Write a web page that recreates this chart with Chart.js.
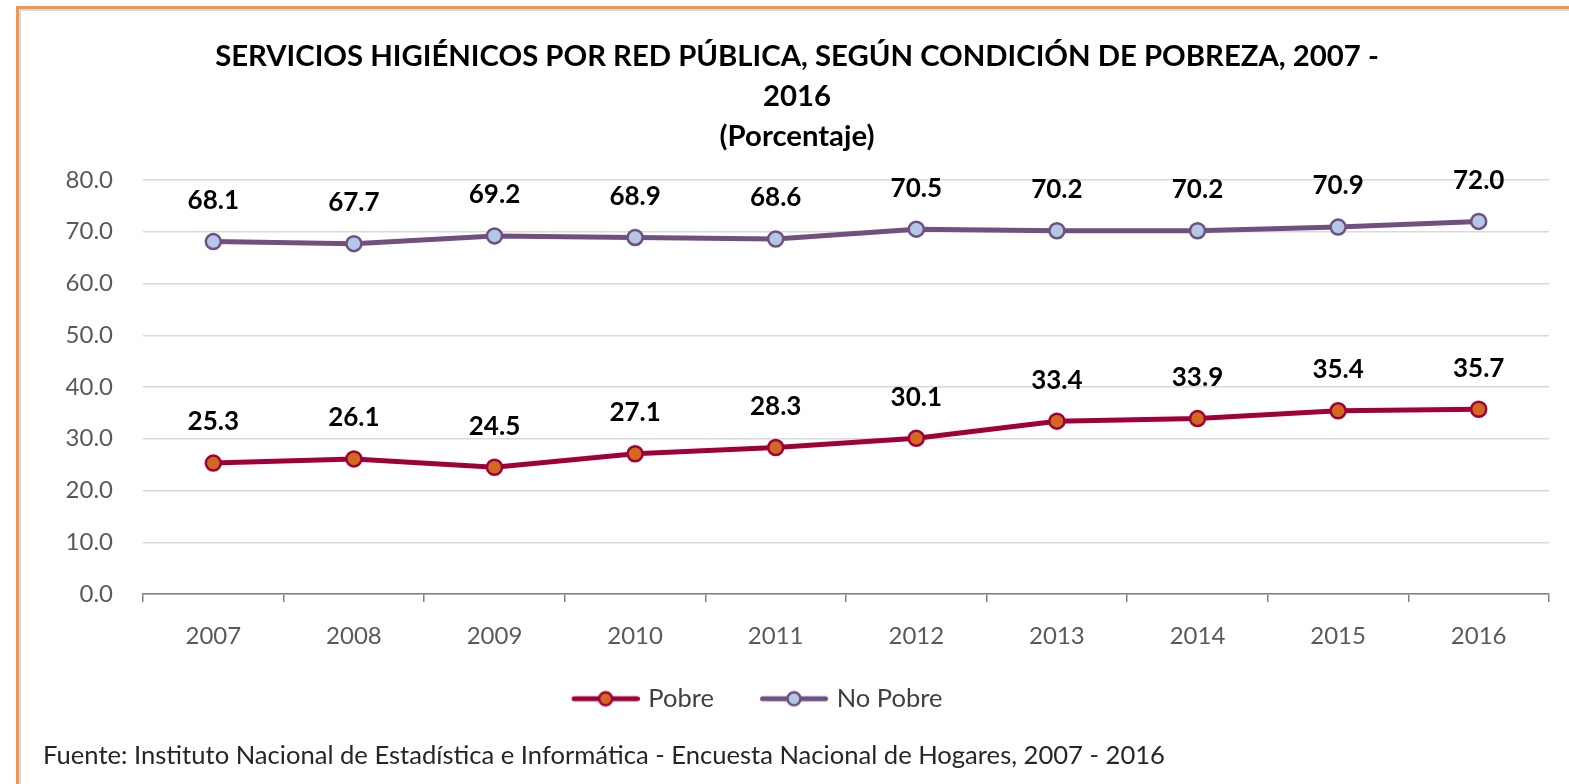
<!DOCTYPE html>
<html><head><meta charset="utf-8">
<script src="https://cdn.jsdelivr.net/npm/chart.js@4.4.1/dist/chart.umd.min.js"></script>
<style>html,body{margin:0;padding:0;background:#fff;overflow:hidden}#wrap{width:1569px;height:784px;position:relative}</style>
</head><body><div id="wrap"><canvas id="c" width="1569" height="784"></canvas></div>
<script>
const years = ['2007','2008','2009','2010','2011','2012','2013','2014','2015','2016'];
const pobre = [25.3, 26.1, 24.5, 27.1, 28.3, 30.1, 33.4, 33.9, 35.4, 35.7];
const noPobre = [68.1, 67.7, 69.2, 68.9, 68.6, 70.5, 70.2, 70.2, 70.9, 72.0];
const seriesNames = ['Pobre', 'No Pobre'];
const titleLines = ['SERVICIOS HIGIÉNICOS POR RED PÚBLICA, SEGÚN CONDICIÓN DE POBREZA, 2007 -', '2016', '(Porcentaje)'];
const sourceNote = 'Fuente: Instituto Nacional de Estadística e Informática - Encuesta Nacional de Hogares, 2007 - 2016';

const FONT = 'Lato';
const C_POBRE = '#A0003A', F_POBRE = '#D2691E';
const C_NOP = '#70507F', F_NOP = '#B4C7E7';

function legendIcon(line, fill, border) {
  const c = document.createElement('canvas'); c.width = 72; c.height = 20;
  const g = c.getContext('2d');
  g.strokeStyle = line; g.lineWidth = 5; g.lineCap = 'round';
  g.beginPath(); g.moveTo(6.5, 10); g.lineTo(69.5, 10); g.stroke();
  g.beginPath(); g.arc(38, 10, 6.5, 0, Math.PI * 2);
  g.fillStyle = fill; g.fill(); g.lineWidth = 2.5; g.strokeStyle = border; g.stroke();
  return c;
}
const icons = [legendIcon(C_POBRE, F_POBRE, C_POBRE), legendIcon(C_NOP, F_NOP, C_NOP)];

const framePlugin = {
  id: 'frame',
  beforeDraw(chart) {
    const ctx = chart.ctx;
    ctx.save();
    ctx.fillStyle = '#fff'; ctx.fillRect(0, 0, chart.width, chart.height);
    ctx.fillStyle = '#D9D9D9';
    ctx.fillRect(19, 9, chart.width - 19, 2);
    ctx.fillRect(19, 9, 2, chart.height - 9);
    ctx.fillStyle = '#F79646';
    ctx.fillRect(16, 6, chart.width - 16, 3);
    ctx.fillRect(16, 6, 3, chart.height - 6);
    ctx.restore();
  },
  afterLayout(chart) {
    const lg = chart.legend;
    lg.left -= 40; lg.right -= 40;
    lg.top -= 9; lg.bottom -= 9;
  },
  afterDatasetsDraw(chart) {
    const ctx = chart.ctx;
    ctx.save();
    ctx.font = 'bold 26px ' + FONT;
    ctx.fillStyle = '#000';
    ctx.textAlign = 'center'; ctx.textBaseline = 'middle';
    chart.data.datasets.forEach((ds, di) => {
      chart.getDatasetMeta(di).data.forEach((pt, i) => {
        ctx.fillText(ds.data[i].toFixed(1), pt.x, pt.y - 41);
      });
    });
    ctx.restore();
  },
  afterDraw(chart) {
    const ctx = chart.ctx;
    ctx.save();
    ctx.font = '25.6px ' + FONT;
    ctx.fillStyle = '#262626';
    ctx.textAlign = 'left'; ctx.textBaseline = 'middle';
    ctx.fillText(sourceNote, 43, 756);
    ctx.restore();
  }
};

new Chart(document.getElementById('c'), {
  type: 'line',
  data: {
    labels: years,
    datasets: [
      { label: seriesNames[0], data: pobre, borderColor: C_POBRE, backgroundColor: F_POBRE,
        borderWidth: 5, pointRadius: 7.5, pointBorderWidth: 2.5, pointBackgroundColor: F_POBRE,
        pointBorderColor: C_POBRE, tension: 0 },
      { label: seriesNames[1], data: noPobre, borderColor: C_NOP, backgroundColor: F_NOP,
        borderWidth: 5, pointRadius: 7.5, pointBorderWidth: 2.5, pointBackgroundColor: F_NOP,
        pointBorderColor: C_NOP, tension: 0 }
    ]
  },
  options: {
    responsive: false,
    animation: false,
    devicePixelRatio: 1,
    layout: { padding: { left: 45, right: 20, top: 37, bottom: 53.5 } },
    plugins: {
      tooltip: { enabled: false },
      title: {
        display: true, text: titleLines, color: '#000',
        font: { family: FONT, size: 29.3, weight: 'bold', lineHeight: '40px' },
        padding: { top: 0, bottom: 23 }
      },
      legend: {
        position: 'bottom',
        labels: {
          usePointStyle: true, pointStyleWidth: 64, padding: 46,
          color: '#404040', font: { family: FONT, size: 25.5 },
          generateLabels(chart) {
            const items = Chart.defaults.plugins.legend.labels.generateLabels(chart);
            items.forEach((it, i) => { it.pointStyle = icons[i]; });
            return items;
          }
        }
      }
    },
    scales: {
      x: {
        offset: true,
        grid: { display: true, drawOnChartArea: false, drawTicks: true, tickLength: 8, color: '#808080', lineWidth: 1.5, offset: true },
        border: { display: true, color: '#808080', width: 1.5 },
        ticks: { color: '#595959', font: { family: FONT, size: 24 }, padding: 20, maxRotation: 0 },
        afterFit(s) { s.height = 55; }
      },
      y: {
        min: 0, max: 80,
        grid: { color: '#D9D9D9', lineWidth: 1.5, drawTicks: false },
        border: { display: false },
        ticks: { stepSize: 10, color: '#595959', font: { family: FONT, size: 24 }, padding: 30,
          callback: v => v.toFixed(1) },
        afterFit(s) { s.width = 98; }
      }
    }
  },
  plugins: [framePlugin]
});
</script>
</body></html>
